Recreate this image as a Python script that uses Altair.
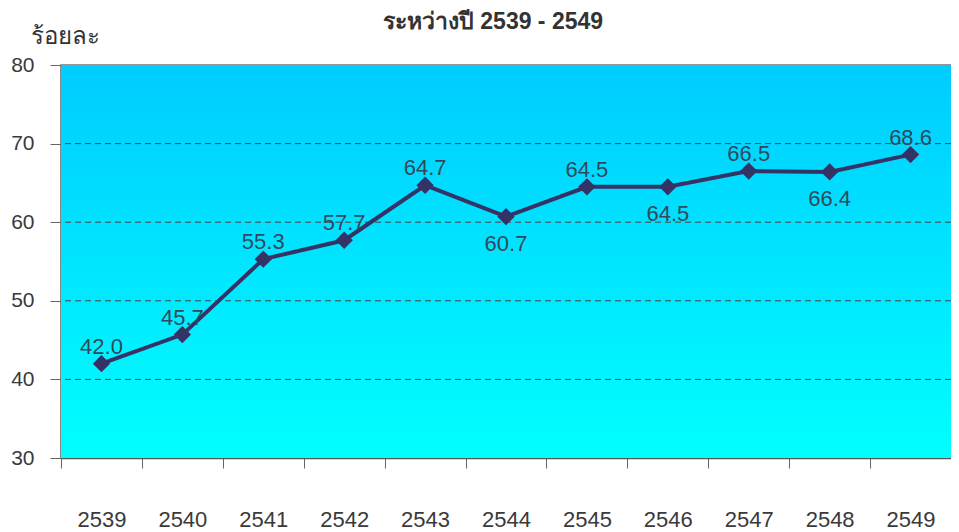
import altair as alt
import pandas as pd

years = ["2539", "2540", "2541", "2542", "2543", "2544", "2545", "2546", "2547", "2548", "2549"]
values = [42.0, 45.7, 55.3, 57.7, 64.7, 60.7, 64.5, 64.5, 66.5, 66.4, 68.6]
below_years = ["2544", "2546", "2548"]
grid_values = [40, 50, 60, 70]
title_text = ["ระหว่างปี 2539 - 2549"]

df = pd.DataFrame({"year": years, "value": values})
df["label"] = df["value"].map(lambda v: f"{v:.1f}")
gdf = pd.DataFrame({"g": grid_values})
tdf = pd.DataFrame({"t": title_text})

W, H = 890, 393
FONT = "Liberation Sans"

x = alt.X("year:N", sort=years, title=None,
          scale=alt.Scale(paddingInner=0, paddingOuter=0),
          axis=alt.Axis(labelAngle=0, labelFontSize=22, labelColor="#3a3a3a",
                        labelFont=FONT, labelPadding=41, tickSize=10,
                        tickBand="extent", tickColor="#666666",
                        domainColor="#555555", domainWidth=1.5, grid=False))
yscale = alt.Scale(domain=[30, 80], nice=False, zero=False)
yaxis = alt.Axis(values=[30, 40, 50, 60, 70, 80], labelFontSize=21,
                 labelColor="#3a3a3a", labelFont=FONT, labelPadding=16,
                 tickSize=11, tickColor="#666666", domainColor="#555555",
                 domainWidth=1.5, grid=False,
                 titleAngle=0, titleAlign="left", titleBaseline="alphabetic",
                 titleX=-31, titleY=-22, titleFontSize=24,
                 titleFontWeight="normal", titleColor="#333333",
                 titleFont=FONT)
y = alt.Y("value:Q", title="ร้อยละ", scale=yscale, axis=yaxis)

bg = alt.Chart(df).mark_rect(
    fill=alt.Gradient(gradient="linear", x1=0, y1=0, x2=0, y2=1,
                      stops=[alt.GradientStop(offset=0, color="#00CCFF"),
                             alt.GradientStop(offset=1, color="#00FFFF")])
).encode(x=alt.value(0), x2=alt.value(W), y=alt.value(0), y2=alt.value(H))

grid = alt.Chart(gdf).mark_rule(color="#444444", strokeDash=[6, 4], strokeWidth=1).encode(
    y=alt.Y("g:Q", title="ร้อยละ", scale=yscale, axis=yaxis))

line = alt.Chart(df).mark_line(color="#333366", strokeWidth=4).encode(x=x, y=y)
pts = alt.Chart(df).mark_point(shape="diamond", filled=True, size=300,
                               color="#333366", opacity=1).encode(x=x, y=y)

above = alt.Chart(df).transform_filter(
    ~alt.FieldOneOfPredicate(field="year", oneOf=below_years)
).mark_text(fontSize=22, font=FONT, color="#2F4A5A", baseline="bottom", dy=-5).encode(
    x=x, y=y, text="label:N")
below = alt.Chart(df).transform_filter(
    alt.FieldOneOfPredicate(field="year", oneOf=below_years)
).mark_text(fontSize=22, font=FONT, color="#2F4A5A", baseline="top", dy=17).encode(
    x=x, y=y, text="label:N")

title = alt.Chart(tdf).mark_text(fontSize=23, font=FONT, fontWeight="bold",
                                 color="#333333", baseline="middle", align="center").encode(
    x=alt.value(432), y=alt.value(-43), text="t:N")

chart = alt.layer(bg, grid, line, pts, above, below, title).properties(
    width=W, height=H,
    autosize=alt.AutoSizeParams(type="none"),
    padding={"left": 53, "top": 57, "right": 0, "bottom": 72},
).configure_view(stroke="#777777", strokeWidth=1.5)

chart.save("out.html", embed_options={"renderer": "svg", "actions": False})
